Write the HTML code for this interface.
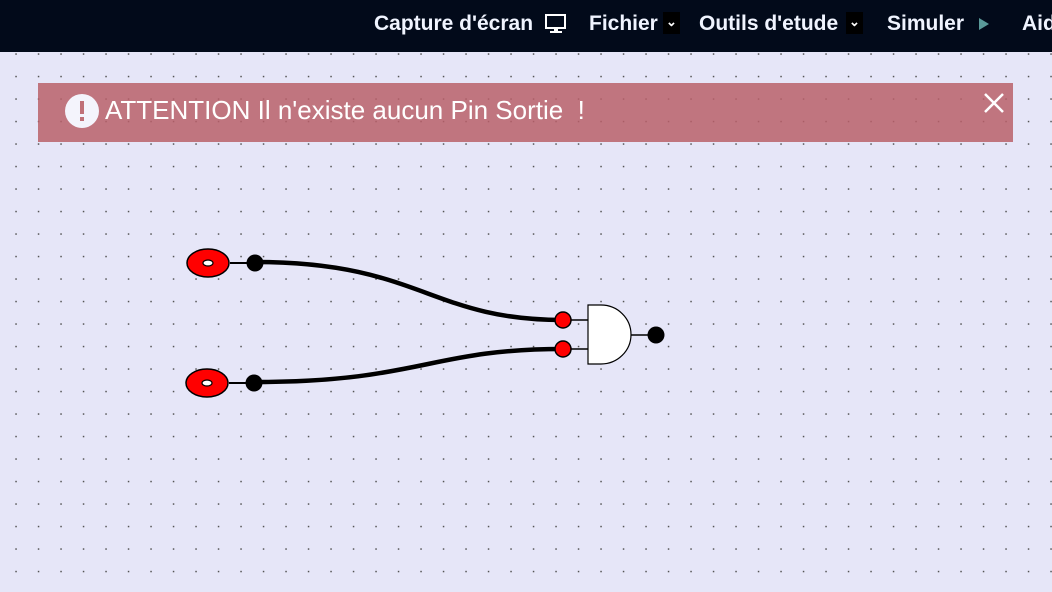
<!DOCTYPE html>
<html><head><meta charset="utf-8"><style>
body{margin:0;width:1052px;height:592px;overflow:hidden;background:#e6e6f8;font-family:"Liberation Sans",sans-serif;position:relative}
#hdr{position:absolute;left:0;top:0;width:1052px;height:52px;background:#020a1a;color:#f0f4ff;font-size:21px;font-weight:bold}
#hdr span{position:absolute;top:12px;white-space:nowrap}
.dd{position:absolute;background:#000;width:17px;height:22px;top:12px;font-size:13px;text-align:center;line-height:20px;color:#fff}
#ban{position:absolute;left:38px;top:83px;width:975px;height:59px;background:rgba(184,96,106,0.85);color:#fff;font-size:26px}
</style></head><body>
<svg width="1052" height="592" style="position:absolute;left:0;top:0">
<defs><pattern id="p" x="15" y="53" width="22.5" height="22.5" patternUnits="userSpaceOnUse"><rect x="0.3" y="0.3" width="1.5" height="1.5" fill="#555"/></pattern></defs>
<rect width="1052" height="592" fill="url(#p)"/>
</svg>
<div id="hdr">
<span style="left:374px">Capture d'écran</span>
<svg style="position:absolute;left:544px;top:13px" width="24" height="22"><rect x="2" y="2" width="19" height="13" fill="none" stroke="#fff" stroke-width="2"/><rect x="10" y="15" width="4" height="3" fill="#fff"/><rect x="6" y="18" width="12" height="2" fill="#fff"/></svg>
<span style="left:589px">Fichier</span><div class="dd" style="left:663px">⌄</div>
<span style="left:699px">Outils d'etude</span><div class="dd" style="left:846px">⌄</div>
<span style="left:887px">Simuler</span>
<svg style="position:absolute;left:978px;top:16px" width="12" height="16"><polygon points="1,2 11,8 1,14" fill="#5a9a9a"/></svg>
<span style="left:1022px">Aide</span>
</div>
<div id="ban">
<svg style="position:absolute;left:26px;top:10px" width="36" height="36"><circle cx="18" cy="18" r="17" fill="#f4f4fc"/><rect x="16" y="8" width="4" height="13" fill="#c07078"/><rect x="16" y="24" width="4" height="4" fill="#c07078"/></svg>
<span style="position:absolute;left:67px;top:12px">ATTENTION Il n'existe aucun Pin Sortie&nbsp; !</span>
<svg style="position:absolute;left:945px;top:9px" width="22" height="22"><path d="M2 2L20 20M20 2L2 20" stroke="#fff" stroke-width="2.5"/></svg>
</div>
<svg width="1052" height="592" style="position:absolute;left:0;top:0">
<path d="M255 262 C 420 262, 430 320, 563 320" fill="none" stroke="#000" stroke-width="4.5"/>
<path d="M254 382 C 420 382, 430 349, 563 349" fill="none" stroke="#000" stroke-width="4.5"/>
<line x1="230" y1="263" x2="255" y2="263" stroke="#000" stroke-width="2"/>
<line x1="229" y1="383" x2="254" y2="383" stroke="#000" stroke-width="2"/>
<ellipse cx="208" cy="263" rx="21" ry="14" fill="#f00" stroke="#000" stroke-width="1.5"/>
<ellipse cx="208" cy="263" rx="5" ry="3" fill="#fff" stroke="#000" stroke-width="1.2"/>
<ellipse cx="207" cy="383" rx="21" ry="14" fill="#f00" stroke="#000" stroke-width="1.5"/>
<ellipse cx="207" cy="383" rx="5" ry="3" fill="#fff" stroke="#000" stroke-width="1.2"/>
<circle cx="255" cy="263" r="8.5" fill="#000"/>
<circle cx="254" cy="383" r="8.5" fill="#000"/>
<line x1="563" y1="320" x2="588" y2="320" stroke="#000" stroke-width="1.5"/>
<line x1="563" y1="349" x2="588" y2="349" stroke="#000" stroke-width="1.5"/>
<line x1="631" y1="335" x2="656" y2="335" stroke="#000" stroke-width="1.5"/>
<path d="M588 305 L601 305 A30 29.5 0 0 1 601 364 L588 364 Z" fill="#fff" stroke="#000" stroke-width="1.2"/>
<circle cx="563" cy="320" r="8" fill="#f00" stroke="#000" stroke-width="1.5"/>
<circle cx="563" cy="349" r="8" fill="#f00" stroke="#000" stroke-width="1.5"/>
<circle cx="656" cy="335" r="8.5" fill="#000"/>
</svg>
</body></html>
